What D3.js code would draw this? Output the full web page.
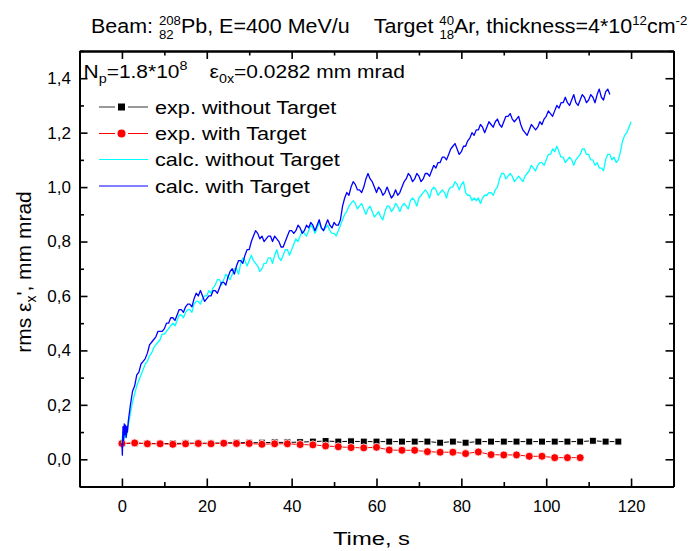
<!DOCTYPE html>
<html><head><meta charset="utf-8">
<script src="https://cdn.jsdelivr.net/npm/d3@7"></script>
<style>
body{margin:0;background:#fff}
svg{display:block}
text{font-family:"Liberation Sans",Arial,sans-serif;fill:#000}
</style>
</head><body>
<svg id="c" width="695" height="551"></svg>
<script>
// ---------------- data ----------------
const xMajorTicks = [0,20,40,60,80,100,120];
const xMinorTicks = [-10,10,30,50,70,90,110,130];
const yMajorTicks = [0,0.2,0.4,0.6,0.8,1.0,1.2,1.4];
const yMinorTicks = [-0.1,0.1,0.3,0.5,0.7,0.9,1.1,1.3,1.5];

const legendLabels = ["exp. without Target","exp. with Target","calc. without Target","calc. with Target"];

const expWithoutTime = [0,3,6,9,12,15,18,21,24,27,30,33,36,39,42,45,48,51,54,57,60,63,66,69,72,75,78,81,84,87,90,93,96,99,102,105,108,111,114,117];
const expWithoutValues = [0.058,0.059,0.058,0.058,0.058,0.059,0.059,0.059,0.060,0.061,0.061,0.061,0.062,0.062,0.063,0.065,0.067,0.065,0.066,0.065,0.065,0.065,0.065,0.065,0.065,0.061,0.065,0.061,0.065,0.065,0.065,0.065,0.065,0.065,0.065,0.065,0.065,0.068,0.065,0.065];

const expWithTime = [0,3,6,9,12,15,18,21,24,27,30,33,36,39,42,45,48,51,54,57,60,63,66,69,72,75,78,81,84,87,90,93,96,99,102,105,108];
const expWithValues = [0.058,0.060,0.057,0.057,0.055,0.057,0.058,0.057,0.059,0.058,0.058,0.055,0.057,0.057,0.054,0.053,0.049,0.046,0.043,0.042,0.044,0.034,0.033,0.033,0.028,0.026,0.026,0.021,0.027,0.017,0.016,0.016,0.011,0.011,0.006,0.006,0.006];

// calc curves: first seconds as [time, value] pairs, then values every 0.5 s starting at 2 s
const calcStart = 2, calcStep = 0.5;
const calcWithHead = [[0,0.06],[0.1,0.015],[0.25,0.12],[0.4,0.07],[0.55,0.13],[0.7,0.09],[0.85,0.125],[1.0,0.08],[1.15,0.12],[1.3,0.10],[1.5,0.14],[1.75,0.17]];
const calcWithValues = [
0.20,0.25,0.27,0.31,0.32,0.35,0.36,0.37,0.39,0.42,
0.43,0.44,0.45,0.47,0.47,0.47,0.48,0.50,0.50,0.52,
0.52,0.51,0.53,0.55,0.55,0.54,0.56,0.57,0.57,0.56,
0.59,0.61,0.60,0.62,0.60,0.58,0.59,0.60,0.60,0.62,
0.62,0.61,0.63,0.65,0.65,0.64,0.67,0.69,0.70,0.68,
0.71,0.73,0.73,0.72,0.75,0.77,0.77,0.80,0.82,0.84,
0.83,0.81,0.82,0.80,0.81,0.82,0.82,0.80,0.82,0.81,
0.80,0.78,0.78,0.80,0.82,0.84,0.84,0.83,0.84,0.86,
0.85,0.83,0.84,0.86,0.85,0.87,0.86,0.84,0.86,0.88,
0.85,0.84,0.86,0.88,0.86,0.85,0.87,0.86,0.86,0.88,
0.93,0.96,0.98,0.97,1.00,1.02,1.01,0.99,0.99,0.98,
1.00,1.03,1.05,1.03,1.02,1.00,0.98,1.00,0.99,0.97,
0.98,1.00,0.98,0.96,0.97,0.99,0.97,0.98,1.00,1.02,
1.03,1.05,1.04,1.02,1.03,1.05,1.04,1.02,1.03,1.05,
1.05,1.04,1.06,1.08,1.07,1.09,1.09,1.11,1.11,1.10,
1.12,1.14,1.15,1.16,1.14,1.12,1.13,1.15,1.15,1.17,
1.18,1.20,1.19,1.21,1.21,1.23,1.22,1.20,1.22,1.24,
1.23,1.22,1.24,1.25,1.23,1.22,1.24,1.26,1.26,1.27,
1.25,1.24,1.25,1.26,1.23,1.21,1.20,1.19,1.21,1.23,
1.22,1.21,1.22,1.24,1.23,1.25,1.26,1.28,1.27,1.26,
1.28,1.30,1.29,1.31,1.31,1.33,1.31,1.30,1.32,1.34,
1.31,1.30,1.32,1.34,1.33,1.31,1.32,1.34,1.33,1.31,
1.34,1.36,1.33,1.32,1.35,1.36,1.34];

const calcWithoutHead = [[0,0.06],[0.2,0.10],[0.4,0.07],[0.6,0.11],[0.8,0.08],[1.0,0.11],[1.2,0.09],[1.4,0.12],[1.7,0.14]];
const calcWithoutValues = [
0.17,0.21,0.24,0.27,0.29,0.31,0.33,0.35,0.36,0.38,
0.39,0.41,0.42,0.43,0.44,0.46,0.46,0.47,0.48,0.49,
0.50,0.49,0.51,0.53,0.53,0.52,0.54,0.55,0.55,0.54,
0.57,0.58,0.58,0.57,0.59,0.60,0.60,0.62,0.61,0.63,
0.64,0.66,0.66,0.64,0.66,0.68,0.67,0.66,0.68,0.70,
0.70,0.68,0.72,0.74,0.73,0.71,0.73,0.75,0.73,0.72,
0.71,0.69,0.70,0.72,0.72,0.74,0.74,0.72,0.75,0.77,
0.74,0.73,0.75,0.77,0.77,0.75,0.77,0.79,0.81,0.80,
0.82,0.84,0.83,0.82,0.84,0.86,0.85,0.83,0.85,0.87,
0.85,0.84,0.85,0.86,0.84,0.83,0.83,0.82,0.84,0.86,
0.88,0.90,0.91,0.93,0.94,0.95,0.94,0.92,0.93,0.94,
0.92,0.90,0.92,0.93,0.91,0.89,0.90,0.91,0.89,0.88,
0.91,0.93,0.93,0.91,0.92,0.94,0.93,0.91,0.93,0.94,
0.93,0.92,0.95,0.96,0.95,0.93,0.96,0.97,0.98,0.99,
0.98,0.96,0.99,1.00,0.99,0.97,0.98,0.99,0.98,0.96,
0.99,1.00,1.00,1.02,1.01,0.99,1.01,1.02,0.98,0.97,
0.97,0.95,0.96,0.95,0.96,0.94,0.96,0.97,0.97,0.98,
0.98,0.97,0.99,1.00,1.03,1.05,1.05,1.03,1.04,1.05,
1.04,1.02,1.03,1.04,1.03,1.02,1.04,1.05,1.06,1.08,
1.07,1.06,1.08,1.09,1.09,1.08,1.10,1.12,1.12,1.14,
1.13,1.15,1.13,1.11,1.11,1.09,1.10,1.11,1.10,1.08,
1.10,1.11,1.12,1.14,1.14,1.12,1.12,1.10,1.10,1.08,
1.09,1.07,1.07,1.06,1.10,1.12,1.12,1.10,1.11,1.09,
1.10,1.13,1.17,1.19,1.20,1.22,1.24];

// ---------------- drawing ----------------
const svg = d3.select("#c");
const M = {l:79.5, r:673.5, t:51, b:486.5};
const x = d3.scaleLinear().domain([-10,130]).range([M.l,M.r]);
const y = d3.scaleLinear().domain([-0.1,1.5]).range([M.b,M.t]);
const fmt = v => d3.format(".1f")(v).replace(".",",");

function styleAxis(g){
  g.selectAll("path.domain").attr("stroke","#000").attr("stroke-width",2);
  g.selectAll(".tick line").attr("stroke","#000").attr("stroke-width",1.6);
}
// bottom
const gB = svg.append("g").attr("transform",`translate(0,${M.b})`)
  .call(d3.axisBottom(x).tickValues(xMajorTicks).tickSize(-8).tickSizeOuter(0).tickPadding(14).tickFormat(d3.format("d")));
gB.selectAll("text").attr("font-size",16.5).attr("font-family",'"Liberation Sans",Arial,sans-serif').attr("fill","#000");
styleAxis(gB);
svg.append("g").attr("transform",`translate(0,${M.b})`)
  .call(d3.axisBottom(x).tickValues(xMinorTicks).tickSize(-4.5).tickSizeOuter(0).tickFormat("")).call(styleAxis);
// top
svg.append("g").attr("transform",`translate(0,${M.t})`)
  .call(d3.axisTop(x).tickValues(xMajorTicks).tickSize(-8).tickSizeOuter(0).tickFormat("")).call(styleAxis);
svg.append("g").attr("transform",`translate(0,${M.t})`)
  .call(d3.axisTop(x).tickValues(xMinorTicks).tickSize(-4.5).tickSizeOuter(0).tickFormat("")).call(styleAxis);
// left
const gL = svg.append("g").attr("transform",`translate(${M.l},0)`)
  .call(d3.axisLeft(y).tickValues(yMajorTicks).tickSize(-8).tickSizeOuter(0).tickPadding(8.5).tickFormat(fmt));
gL.selectAll("text").attr("font-size",17).attr("font-family",'"Liberation Sans",Arial,sans-serif').attr("fill","#000");
styleAxis(gL);
svg.append("g").attr("transform",`translate(${M.l},0)`)
  .call(d3.axisLeft(y).tickValues(yMinorTicks).tickSize(-4.5).tickSizeOuter(0).tickFormat("")).call(styleAxis);
// right
svg.append("g").attr("transform",`translate(${M.r},0)`)
  .call(d3.axisRight(y).tickValues(yMajorTicks).tickSize(-8).tickSizeOuter(0).tickFormat("")).call(styleAxis);
svg.append("g").attr("transform",`translate(${M.r},0)`)
  .call(d3.axisRight(y).tickValues(yMinorTicks).tickSize(-4.5).tickSizeOuter(0).tickFormat("")).call(styleAxis);

// series
const line = d3.line().x(d=>x(d[0])).y(d=>y(d[1]));
const expWithout = expWithoutTime.map((t,i)=>[t,expWithoutValues[i]]);
const expWith = expWithTime.map((t,i)=>[t,expWithValues[i]]);
const calcWith = calcWithHead.concat(calcWithValues.map((v,i)=>[calcStart+i*calcStep,v]));
const calcWithout = calcWithoutHead.concat(calcWithoutValues.map((v,i)=>[calcStart+i*calcStep,v]));

const plot = svg.append("g");
plot.append("path").datum(expWithout).attr("d",line).attr("fill","none").attr("stroke","#000").attr("stroke-width",1);
plot.selectAll("rect.sq").data(expWithout).join("rect").attr("class","sq")
  .attr("x",d=>x(d[0])-3.5).attr("y",d=>y(d[1])-3.5).attr("width",7).attr("height",7)
  .attr("fill","#000").attr("stroke","#fff").attr("stroke-width",1);
plot.append("path").datum(expWith).attr("d",line).attr("fill","none").attr("stroke","#ff0000").attr("stroke-width",1);
plot.selectAll("circle.ci").data(expWith).join("circle").attr("class","ci")
  .attr("cx",d=>x(d[0])).attr("cy",d=>y(d[1])).attr("r",4)
  .attr("fill","#ff0000").attr("stroke","#fff").attr("stroke-width",0.8);
plot.append("path").datum(calcWithout).attr("d",line).attr("fill","none").attr("stroke","#00ffff").attr("stroke-width",1.3).attr("stroke-linejoin","round");
plot.append("path").datum(calcWith).attr("d",line).attr("fill","none").attr("stroke","#0000ff").attr("stroke-width",1.3).attr("stroke-linejoin","round");

// helper: fit a text group horizontally to [x0,x1]
function fit(g, x0, x1, yb){
  const bb = g.node().getBBox();
  const sx = (x1-x0)/bb.width;
  g.attr("transform",`translate(${x0 - bb.x*sx},${yb}) scale(${sx},1)`);
}

// legend
const legY = [107,133.5,159.5,186];
const legEnd = [336.5,306.5,340,310];
const legColors = ["#000","#ff0000","#00ffff","#0000ff"];
legendLabels.forEach((lab,i)=>{
  const cy = legY[i];
  if(i<2){
    svg.append("line").attr("x1",99).attr("x2",115).attr("y1",cy).attr("y2",cy).attr("stroke",i==0?"#333":"#ff0000").attr("stroke-width",1);
    svg.append("line").attr("x1",128).attr("x2",148).attr("y1",cy).attr("y2",cy).attr("stroke",i==0?"#333":"#ff0000").attr("stroke-width",1);
    if(i==0) svg.append("rect").attr("x",118).attr("y",cy-3.5).attr("width",7).attr("height",7).attr("fill","#000");
    else svg.append("circle").attr("cx",121.5).attr("cy",cy).attr("r",4).attr("fill","#ff0000");
  } else {
    svg.append("line").attr("x1",99).attr("x2",148).attr("y1",cy).attr("y2",cy).attr("stroke",legColors[i]).attr("stroke-width",1.1);
  }
  const g = svg.append("g");
  g.append("text").attr("font-size",18.5).text(lab);
  fit(g,155,legEnd[i],cy+6.5);
});

// annotation
{
  const g = svg.append("g");
  const t = g.append("text").attr("font-size",19);
  t.append("tspan").text("N");
  t.append("tspan").attr("font-size",13).attr("dy",5).text("p");
  t.append("tspan").attr("dy",-5).text("=1.8*10");
  t.append("tspan").attr("font-size",13).attr("dy",-8).text("8");
  t.append("tspan").attr("dy",8).attr("dx",20).text("ε");
  t.append("tspan").attr("font-size",13).attr("dy",5).text("0x");
  t.append("tspan").attr("dy",-5).text("=0.0282 mm mrad");
  fit(g,83.5,405,78);
}

// title
{
  const g = svg.append("g");
  const t = g.append("text").attr("font-size",19.5);
  t.append("tspan").text("Beam: ");
  t.append("tspan").attr("font-size",12).attr("dy",-8).text("208");
  t.append("tspan").attr("font-size",12).attr("dx",-20).attr("dy",14).text("82");
  t.append("tspan").attr("dx",6.7).attr("dy",-6).text("Pb, E=400 MeV/u");
  t.append("tspan").attr("dx",22).text("Target ");
  t.append("tspan").attr("font-size",12).attr("dy",-8).text("40");
  t.append("tspan").attr("font-size",12).attr("dx",-13.3).attr("dy",14).text("18");
  t.append("tspan").attr("dy",-6).text("Ar, thickness=4*10");
  t.append("tspan").attr("font-size",12).attr("dy",-8).text("12");
  t.append("tspan").attr("dy",8).text("cm");
  t.append("tspan").attr("font-size",12).attr("dy",-8).text("-2");
  fit(g,91,688,32.5);
}

// axis titles
{
  const g = svg.append("g");
  g.append("text").attr("font-size",19).text("Time, s");
  fit(g,333,410,545);
}
{
  const g = svg.append("g");
  const t = g.append("text").attr("font-size",21).attr("text-anchor","middle");
  t.append("tspan").text("rms ε");
  t.append("tspan").attr("font-size",14).attr("dy",5).text("x");
  t.append("tspan").attr("dy",-5).text("', mm mrad");
  g.attr("transform","translate(31,272) rotate(-90)");
}
</script>
</body></html>
